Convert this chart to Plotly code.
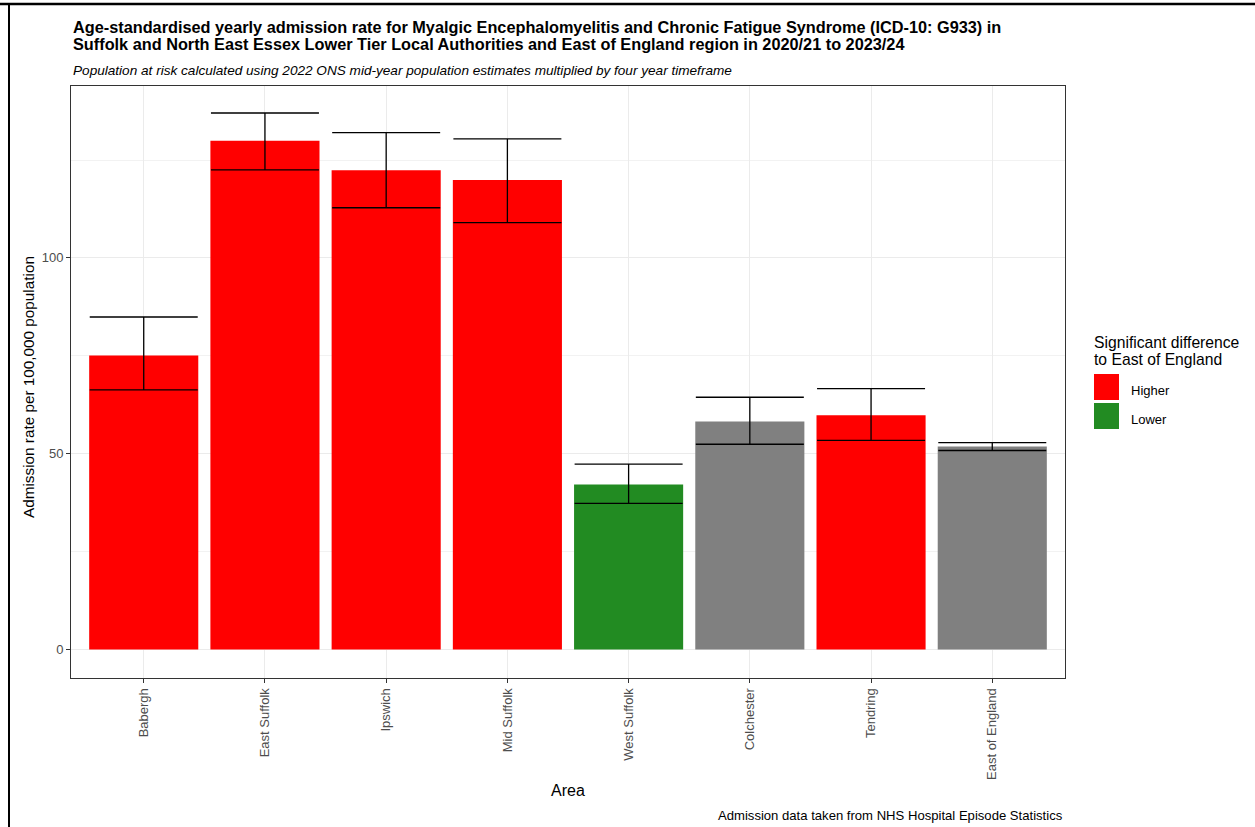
import plotly.graph_objects as go

areas = ["Babergh", "East Suffolk", "Ipswich", "Mid Suffolk", "West Suffolk",
         "Colchester", "Tendring", "East of England"]
rate = [75.1, 129.9, 122.4, 119.9, 42.1, 58.2, 59.8, 51.8]
lower_ci = [66.3, 122.5, 112.8, 109.0, 37.3, 52.4, 53.4, 50.8]
upper_ci = [84.9, 137.0, 132.0, 130.4, 47.3, 64.4, 66.6, 52.8]
significance = ["Higher", "Higher", "Higher", "Higher", "Lower", "Similar", "Higher", "Similar"]

colors = {"Higher": "#FF0000", "Lower": "#228B22", "Similar": "#808080"}
legend_items = ["Higher", "Lower"]

W, H = 1255, 827
L, R, T, B = 71, 1065, 86, 678
pw, ph = R - L, B - T

def px(x):
    return (x - L) / pw

def py(y):
    return (B - y) / ph

FONT = "Liberation Sans, Arial, sans-serif"

fig = go.Figure()
for grp in ["Higher", "Lower", "Similar"]:
    idx = [i for i, s in enumerate(significance) if s == grp]
    fig.add_trace(go.Bar(
        x=[areas[i] for i in idx],
        y=[rate[i] for i in idx],
        width=0.9,
        marker=dict(color=colors[grp], line=dict(width=0)),
        error_y=dict(
            type="data", symmetric=False,
            array=[upper_ci[i] - rate[i] for i in idx],
            arrayminus=[rate[i] - lower_ci[i] for i in idx],
            color="black", thickness=1.3, width=54,
        ),
        showlegend=False,
        name=grp,
    ))

fig.update_layout(
    width=W, height=H,
    margin=dict(l=L, r=W - R, t=T, b=H - B, pad=0),
    paper_bgcolor="white", plot_bgcolor="white",
    barmode="overlay",
    font=dict(family=FONT, color="#000000"),
    showlegend=False,
)
fig.update_xaxes(
    type="category", categoryorder="array", categoryarray=areas,
    range=[-0.6, 7.6],
    showgrid=True, gridcolor="#EBEBEB", gridwidth=1,
    showline=True, linecolor="#333333", linewidth=1, mirror=True,
    ticks="outside", ticklen=4, tickcolor="#333333",
    tickangle=-90, tickfont=dict(size=13, color="#4D4D4D", family=FONT),
    zeroline=False,
)
fig.update_yaxes(
    range=[-7.3, 143.9],
    tickvals=[0, 50, 100],
    showgrid=True, gridcolor="#EBEBEB", gridwidth=1,
    minor=dict(tickvals=[25, 75, 125], showgrid=True, gridcolor="#F2F2F2", gridwidth=0.6, ticks=""),
    showline=True, linecolor="#333333", linewidth=1, mirror=True,
    ticks="outside", ticklen=4, tickcolor="#333333",
    tickfont=dict(size=13, color="#4D4D4D", family=FONT),
    zeroline=False,
)

ann = []
def txt(text, x, y, size, xanchor="left", **kw):
    ann.append(dict(text=text, x=x, y=y, xref="paper", yref="paper", xanchor=xanchor,
                    yanchor="middle", showarrow=False,
                    font=dict(size=size, family=FONT, color="black"), **kw))

txt("<b>Age-standardised yearly admission rate for Myalgic Encephalomyelitis and Chronic Fatigue Syndrome (ICD-10: G933) in</b>",
    px(71), py(27), 16.3)
txt("<b>Suffolk and North East Essex Lower Tier Local Authorities and East of England region in 2020/21 to 2023/24</b>",
    px(71), py(44), 16.3)
txt("<i>Population at risk calculated using 2022 ONS mid-year population estimates multiplied by four year timeframe</i>",
    px(71), py(71), 13.6)
txt("Area", 0.5, py(790), 16, xanchor="center")
txt("Admission rate per 100,000 population", px(28), py(387), 15.3, xanchor="center", textangle=-90)
txt("Admission data taken from NHS Hospital Episode Statistics", 1.0, py(815), 13.1, xanchor="right")
# legend (manual)
txt("Significant difference", px(1092), py(342), 15.7)
txt("to East of England", px(1092), py(359), 15.7)
shapes = []
key_tops = [374, 403]
for item, top in zip(legend_items, key_tops):
    shapes.append(dict(type="rect", xref="paper", yref="paper",
                       x0=px(1094), x1=px(1119), y0=py(top + 26), y1=py(top),
                       fillcolor=colors[item], line=dict(width=0)))
    txt(item, px(1129), py(top + 16), 13)
# page border lines
shapes.append(dict(type="line", xref="paper", yref="paper", x0=px(0), x1=px(1255), y0=py(4), y1=py(4),
                   line=dict(color="black", width=2.5)))
shapes.append(dict(type="line", xref="paper", yref="paper", x0=px(9), x1=px(9), y0=py(4), y1=py(827),
                   line=dict(color="black", width=2)))

fig.update_layout(annotations=ann, shapes=shapes)
fig.write_html("out.html")
